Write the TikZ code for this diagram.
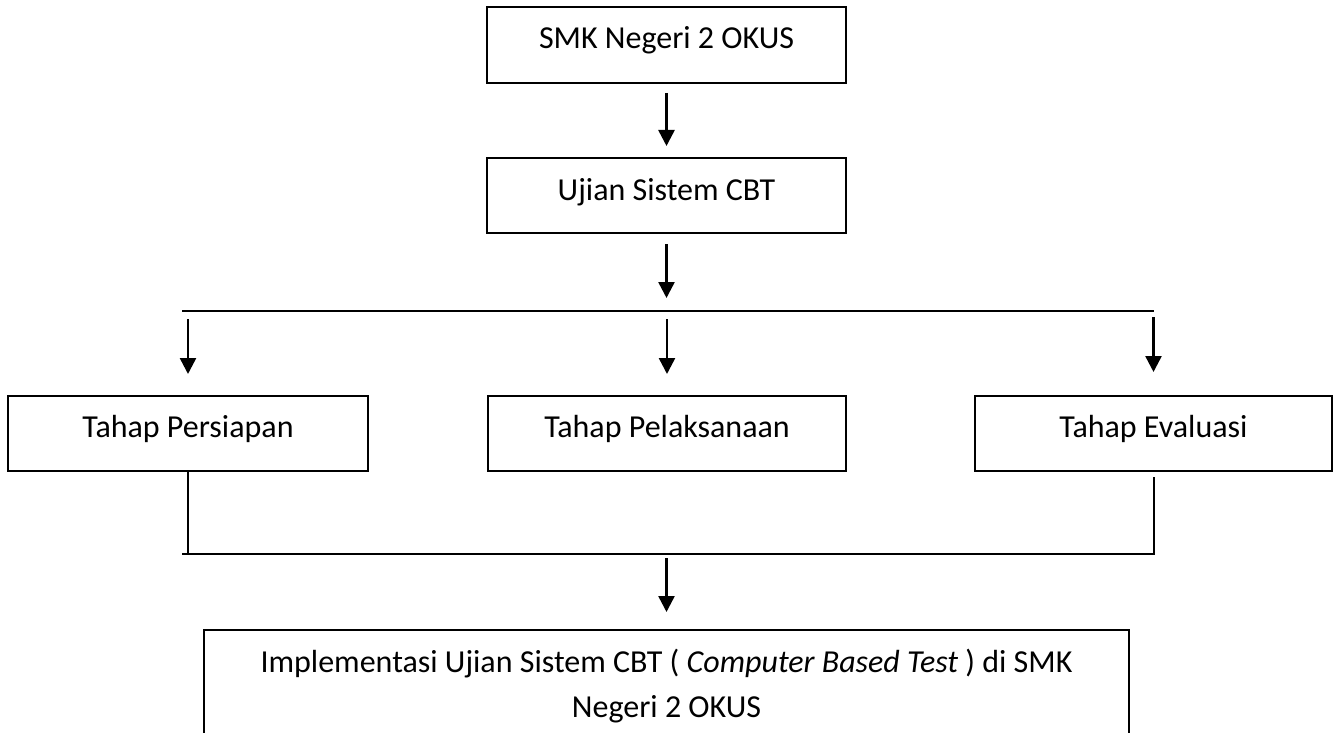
\documentclass[tikz,border=0pt]{standalone}
\usepackage{fontspec}
\setmainfont{Carlito}
\usetikzlibrary{positioning, arrows.meta, calc}

\begin{document}
\begin{tikzpicture}[x=1pt, y=-1pt,
        kotak/.style={draw, line width=2pt, inner sep=0pt, minimum height=75pt,
            font=\fontsize{32}{45}\selectfont},
        panah/.style={-{Triangle[length=16pt, width=16pt]}, line width=2.5pt},
        garis/.style={line width=2pt}]
            \clip (0,0) rectangle (1336,733);
            \useasboundingbox (0,0) rectangle (1336,733);

            \node (smk) at (666.5, 45) [kotak, minimum width=359pt, text height=42pt, text depth=34pt] {SMK Negeri 2 OKUS};
            \node (ujian) at (666.5, 195.5) [kotak, minimum width=359pt, text height=42pt, text depth=33pt] {Ujian Sistem CBT};

            \node (persiapan) at (188, 433.5) [kotak, minimum width=360pt, text height=41pt, text depth=34pt] {Tahap Persiapan};
            \node (pelaksanaan) at (667, 433.5) [kotak, minimum width=358pt, text height=41pt, text depth=34pt] {Tahap Pelaksanaan};
            \node (evaluasi) at (1153.5, 433.5) [kotak, minimum width=357pt, text height=41pt, text depth=34pt] {Tahap Evaluasi};

            \node (impl) at (666.5, 686) [kotak, minimum width=925pt, minimum height=112pt, align=center]
                {Implementasi Ujian Sistem CBT ( \textit{Computer Based Test} ) di SMK\\Negeri 2 OKUS};

            % cabang atas dan bawah
            \coordinate (atasKiri) at (182, 311);
            \coordinate (atasKanan) at (1154, 311);
            \coordinate (bawahKiri) at (182, 554);
            \coordinate (bawahKanan) at (1155, 554);

            \draw[panah, shorten <=9pt, shorten >=11pt] (smk.south) -- (ujian.north);
            \draw[panah, shorten <=10pt, shorten >=13pt] (ujian.south) -- (ujian.south |- atasKiri);
            \draw[garis] (atasKiri) -- (atasKanan);

            \draw[panah, shorten <=8pt, shorten >=21pt] (persiapan.north |- atasKiri) -- (persiapan.north);
            \draw[panah, shorten <=8pt, shorten >=21pt] (pelaksanaan.north |- atasKiri) -- (pelaksanaan.north);
            \draw[panah, shorten <=6pt, shorten >=23pt] (evaluasi.north |- atasKiri) -- (evaluasi.north);

            \draw[garis] (persiapan.south) -- (persiapan.south |- bawahKiri);
            \draw[garis, shorten <=5pt] (evaluasi.south) -- (evaluasi.south |- bawahKanan);
            \draw[garis] (bawahKiri) -- (bawahKanan);

            \draw[panah, shorten <=4pt, shorten >=17pt] (impl.north |- bawahKiri) -- (impl.north);

        \end{tikzpicture}
\end{document}
